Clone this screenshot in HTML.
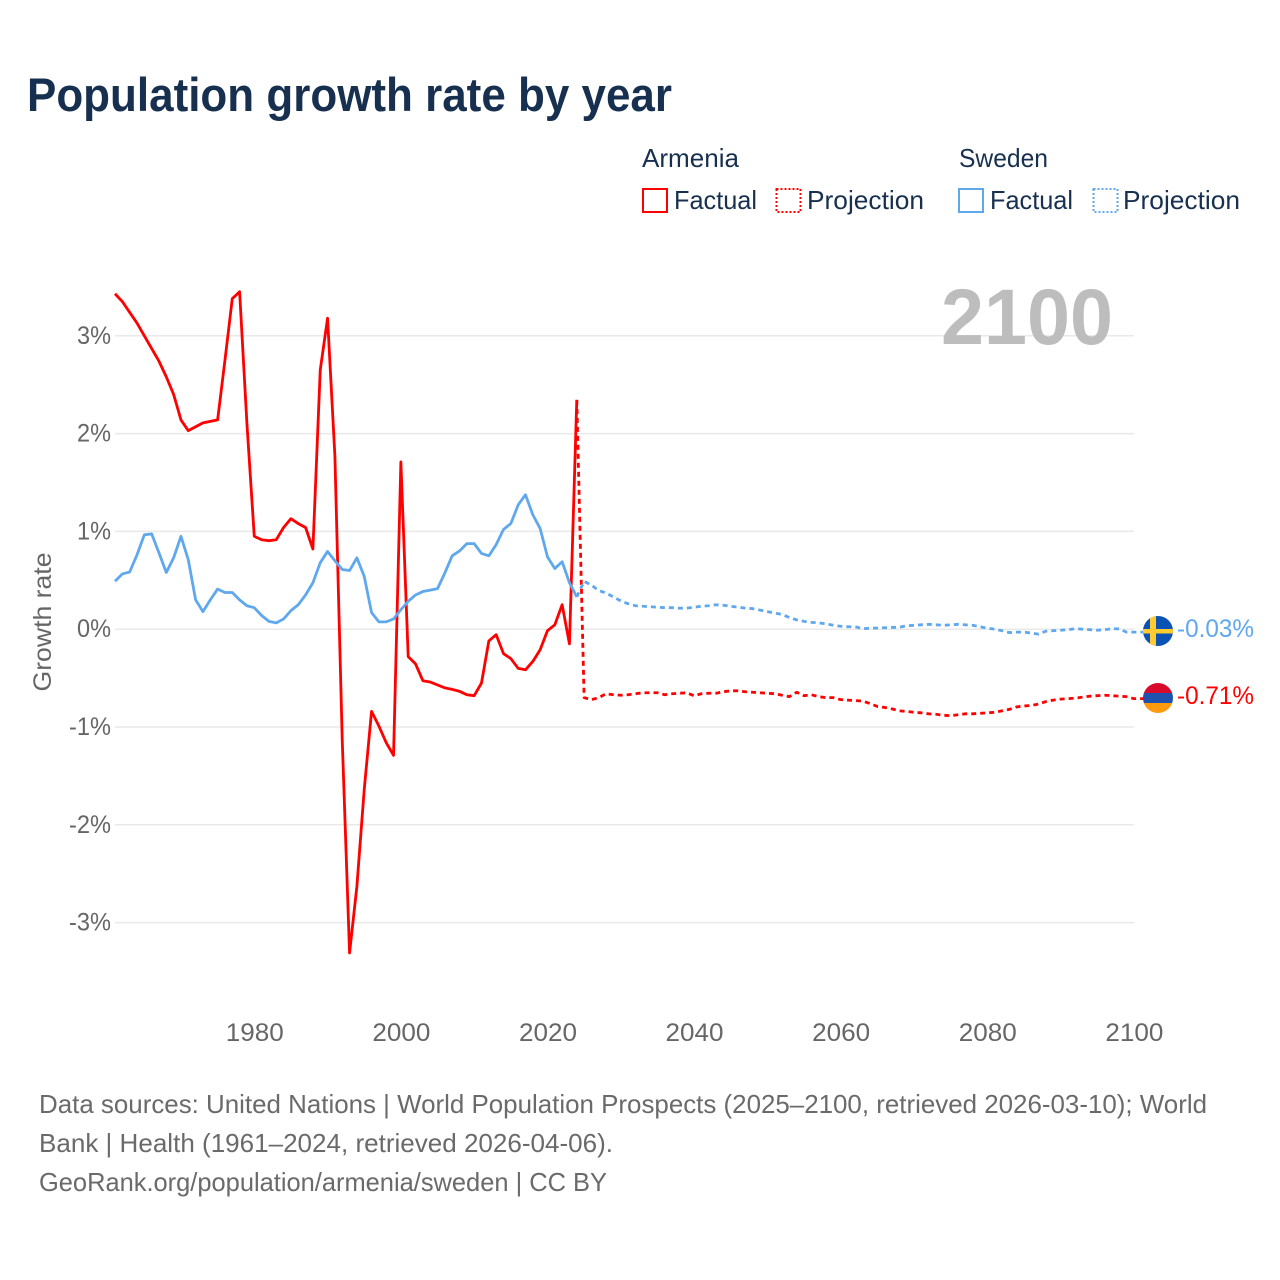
<!DOCTYPE html>
<html lang="en">
<head>
<meta charset="utf-8">
<title>Population growth rate by year</title>
<style>
html,body{margin:0;padding:0;background:#fff;width:1280px;height:1280px;overflow:hidden}
svg{display:block}
text{font-family:"Liberation Sans","DejaVu Sans",sans-serif}
</style>
</head>
<body>
<svg id="chart" width="1280" height="1280" viewBox="0 0 1280 1280" xmlns="http://www.w3.org/2000/svg">
  <rect width="1280" height="1280" fill="#fff"/>
  <text x="27" y="111" font-size="47" font-weight="700" fill="#18304f" textLength="645" lengthAdjust="spacingAndGlyphs">Population growth rate by year</text>

  <g font-size="26" fill="#18304f">
    <text x="642" y="167" textLength="97" lengthAdjust="spacingAndGlyphs">Armenia</text>
    <text x="959" y="167" textLength="89" lengthAdjust="spacingAndGlyphs">Sweden</text>
    <g>
      <rect x="643" y="189" width="24" height="23" fill="none" stroke="#ff0000" stroke-width="2"/>
      <text x="674" y="209" textLength="83" lengthAdjust="spacingAndGlyphs">Factual</text>
    </g>
    <g>
      <rect x="776.5" y="189" width="24" height="23" fill="none" stroke="#ff0000" stroke-width="2" stroke-dasharray="2 2"/>
      <text x="807" y="209" textLength="117" lengthAdjust="spacingAndGlyphs">Projection</text>
    </g>
    <g>
      <rect x="959" y="189" width="24" height="23" fill="none" stroke="#5fa8ee" stroke-width="2"/>
      <text x="990" y="209" textLength="83" lengthAdjust="spacingAndGlyphs">Factual</text>
    </g>
    <g>
      <rect x="1093.5" y="189" width="24" height="23" fill="none" stroke="#5fa8ee" stroke-width="2" stroke-dasharray="2 2"/>
      <text x="1123" y="209" textLength="117" lengthAdjust="spacingAndGlyphs">Projection</text>
    </g>
  </g>

  <g id="grid"></g>
  <text x="941" y="344" font-size="79" font-weight="700" fill="#bdbdbd" textLength="172" lengthAdjust="spacingAndGlyphs">2100</text>
  <g id="yticks" font-size="25" fill="#666"></g>
  <g id="xticks" font-size="25" fill="#666"></g>
  <text transform="translate(51,622) rotate(-90)" text-anchor="middle" font-size="25" fill="#666" textLength="139" lengthAdjust="spacingAndGlyphs">Growth rate</text>
  <g id="series"></g>

  <defs>
    <clipPath id="clip-se"><circle id="clip-se-c" cx="1158" cy="631" r="15"/></clipPath>
    <clipPath id="clip-am"><circle id="clip-am-c" cx="1158" cy="698" r="15"/></clipPath>
  </defs>
  <g clip-path="url(#clip-se)">
    <rect x="1143" y="616" width="30" height="31" fill="#0a52b4"/>
    <rect x="1150" y="616" width="6" height="31" fill="#fecc2f"/>
    <rect x="1143" y="629" width="30" height="4.5" fill="#fecc2f"/>
  </g>
  <g clip-path="url(#clip-am)">
    <rect x="1143" y="683" width="30" height="10" fill="#d90a2c"/>
    <rect x="1143" y="693" width="30" height="10" fill="#1f52ae"/>
    <rect x="1143" y="703" width="30" height="10" fill="#ff9a0f"/>
  </g>
  <text id="label-se" x="1177" y="637" font-size="25" fill="#5fa8ee" textLength="77" lengthAdjust="spacingAndGlyphs"></text>
  <text id="label-am" x="1177" y="704" font-size="25" fill="#ff0000" textLength="77" lengthAdjust="spacingAndGlyphs"></text>

  <g font-size="26" fill="#6a6a6a">
    <text x="39" y="1113" textLength="1168" lengthAdjust="spacingAndGlyphs">Data sources: United Nations | World Population Prospects (2025–2100, retrieved 2026-03-10); World</text>
    <text x="39" y="1152" textLength="574" lengthAdjust="spacingAndGlyphs">Bank | Health (1961–2024, retrieved 2026-04-06).</text>
    <text x="39" y="1191" textLength="568" lengthAdjust="spacingAndGlyphs">GeoRank.org/population/armenia/sweden | CC BY</text>
  </g>
</svg>
<script>
const factualStartYear = 1961;
const projectionStartYear = 2024;
const armeniaFactual = [3.43,3.35,3.24,3.13,3.00,2.87,2.74,2.58,2.40,2.14,2.03,2.07,2.11,2.125,2.14,2.75,3.38,3.45,2.1,0.95,0.915,0.905,0.915,1.04,1.13,1.08,1.04,0.82,2.65,3.18,1.77,-1.13,-3.31,-2.63,-1.64,-0.84,-0.99,-1.16,-1.29,1.71,-0.28,-0.355,-0.527,-0.54,-0.57,-0.60,-0.615,-0.635,-0.67,-0.68,-0.55,-0.12,-0.056,-0.25,-0.30,-0.40,-0.415,-0.33,-0.21,-0.015,0.045,0.25,-0.15,2.345];
const swedenFactual = [0.49,0.565,0.585,0.76,0.965,0.975,0.78,0.58,0.73,0.95,0.71,0.30,0.18,0.30,0.41,0.375,0.375,0.30,0.24,0.22,0.14,0.08,0.065,0.105,0.19,0.25,0.35,0.475,0.68,0.795,0.70,0.61,0.60,0.73,0.54,0.17,0.075,0.075,0.105,0.20,0.285,0.35,0.385,0.40,0.415,0.575,0.75,0.80,0.875,0.875,0.775,0.75,0.865,1.02,1.08,1.27,1.375,1.17,1.03,0.74,0.62,0.69,0.475,0.33];
const armeniaProjection = [2.345,-0.70,-0.72,-0.70,-0.66,-0.67,-0.675,-0.67,-0.66,-0.65,-0.65,-0.65,-0.67,-0.66,-0.655,-0.65,-0.68,-0.66,-0.655,-0.655,-0.64,-0.63,-0.63,-0.64,-0.645,-0.65,-0.655,-0.66,-0.675,-0.69,-0.645,-0.68,-0.67,-0.69,-0.70,-0.70,-0.72,-0.725,-0.73,-0.735,-0.76,-0.79,-0.80,-0.815,-0.835,-0.84,-0.85,-0.855,-0.865,-0.87,-0.88,-0.885,-0.875,-0.865,-0.865,-0.86,-0.855,-0.85,-0.835,-0.82,-0.795,-0.785,-0.78,-0.765,-0.74,-0.725,-0.715,-0.71,-0.705,-0.695,-0.685,-0.68,-0.675,-0.68,-0.685,-0.69,-0.71];
const swedenProjection = [0.33,0.49,0.45,0.395,0.37,0.33,0.29,0.26,0.24,0.235,0.23,0.225,0.22,0.22,0.215,0.215,0.225,0.235,0.24,0.25,0.245,0.235,0.225,0.215,0.21,0.195,0.18,0.165,0.15,0.12,0.095,0.08,0.07,0.065,0.055,0.04,0.03,0.025,0.025,0.005,0.01,0.012,0.015,0.018,0.02,0.035,0.04,0.045,0.05,0.045,0.04,0.045,0.05,0.045,0.04,0.025,0.01,0.0,-0.015,-0.035,-0.03,-0.03,-0.04,-0.05,-0.02,-0.015,-0.01,-0.005,0.005,0.0,-0.005,-0.01,-0.005,0.005,0.003,-0.03,-0.03];
const xTickValues = [1980,2000,2020,2040,2060,2080,2100];
const yTickValues = [3,2,1,0,-1,-2,-3];
const endValueLabels = ["-0.03%","-0.71%"];

const X0 = 115, PX_PER_YEAR = 7.33, BASE_YEAR = 1961;
const Y0 = 629.2, PX_PER_UNIT = 97.8;
const SVGNS = "http://www.w3.org/2000/svg";
function xScale(year){ return X0 + (year - BASE_YEAR) * PX_PER_YEAR; }
function yScale(v){ return Y0 - v * PX_PER_UNIT; }
function make(tag, parent){ const e = document.createElementNS(SVGNS, tag); parent.appendChild(e); return e; }

const gridG = document.getElementById("grid");
const yG = document.getElementById("yticks");
yTickValues.forEach(function(v){
  const l = make("line", gridG);
  
  
  l.setAttribute("x1", 115); l.setAttribute("x2", 1134);
  l.setAttribute("y1", yScale(v)); l.setAttribute("y2", yScale(v));
  l.setAttribute("stroke", "#e9e9e9"); l.setAttribute("stroke-width", "1.5");
  const t = make("text", yG);
  
  
  const s = v + "%";
  const w = s.length === 2 ? 34 : 42;
  t.setAttribute("x", 111 - w); t.setAttribute("y", yScale(v) + 8);
  t.setAttribute("textLength", w); t.setAttribute("lengthAdjust", "spacingAndGlyphs");
  t.textContent = s;
});

const xG = document.getElementById("xticks");
xTickValues.forEach(function(y){
  const t = make("text", xG);
  
  
  t.setAttribute("x", xScale(y) - 28.5); t.setAttribute("y", 1041);
  t.setAttribute("textLength", 58); t.setAttribute("lengthAdjust", "spacingAndGlyphs");
  t.textContent = y;
});

function pathFor(values, startYear){
  return values.map(function(v, i){
    return (i ? "L" : "M") + xScale(startYear + i).toFixed(2) + " " + yScale(v).toFixed(2);
  }).join("");
}
const seriesG = document.getElementById("series");
function addLine(name, values, startYear, color, dash, extra){
  const p = make("path", seriesG);
  
  
  let d = pathFor(values, startYear);
  if (extra) d += "L1144 " + yScale(values[values.length - 1]).toFixed(2);
  p.setAttribute("d", d);
  p.setAttribute("fill", "none");
  p.setAttribute("stroke", color);
  p.setAttribute("stroke-width", "2.8");
  p.setAttribute("stroke-linejoin", "round");
  if (dash) p.setAttribute("stroke-dasharray", dash);
}
addLine("armenia-projection-line", armeniaProjection, projectionStartYear, "#ff0000", "5 4", true);
addLine("armenia-factual-line", armeniaFactual, factualStartYear, "#ff0000", null, false);
addLine("sweden-projection-line", swedenProjection, projectionStartYear, "#5fa8ee", "5 4", true);
addLine("sweden-factual-line", swedenFactual, factualStartYear, "#5fa8ee", null, false);

document.getElementById("label-se").textContent = endValueLabels[0];
document.getElementById("label-am").textContent = endValueLabels[1];
</script>
</body>
</html>
